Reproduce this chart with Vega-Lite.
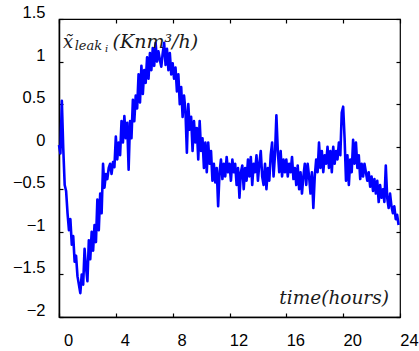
{
  "$schema": "https://vega.github.io/schema/vega-lite/v6.json",
  "autosize": "none",
  "width": 341,
  "height": 298,
  "padding": {"left": 59, "top": 19, "right": 19, "bottom": 34},
  "config": {
    "view": {"stroke": "#000000", "strokeWidth": 1.2},
    "axis": {
      "grid": false,
      "domainColor": "#000000",
      "domainWidth": 1.5,
      "tickColor": "#000000",
      "tickWidth": 1.2,
      "labelFont": "Liberation Sans",
      "labelFontSize": 16.5,
      "labelColor": "#000000",
      "title": null
    }
  },
  "data": {
    "values": [
      {"t": 0.0, "v": 0.02}, {"t": 0.1, "v": -0.08}, {"t": 0.2, "v": 0.54}, {"t": 0.3, "v": -0.02}, {"t": 0.4, "v": -0.45},
      {"t": 0.5, "v": -0.52}, {"t": 0.6, "v": -0.78}, {"t": 0.7, "v": -0.98}, {"t": 0.8, "v": -0.85}, {"t": 0.9, "v": -1.15},
      {"t": 1.0, "v": -1.05}, {"t": 1.1, "v": -1.35}, {"t": 1.2, "v": -1.28}, {"t": 1.3, "v": -1.52}, {"t": 1.4, "v": -1.62},
      {"t": 1.5, "v": -1.72}, {"t": 1.6, "v": -1.5}, {"t": 1.7, "v": -1.62}, {"t": 1.8, "v": -1.2}, {"t": 1.9, "v": -1.42},
      {"t": 2.0, "v": -1.58}, {"t": 2.1, "v": -1.1}, {"t": 2.2, "v": -1.32}, {"t": 2.3, "v": -1.0}, {"t": 2.4, "v": -1.22},
      {"t": 2.5, "v": -0.92}, {"t": 2.6, "v": -1.12}, {"t": 2.7, "v": -0.62}, {"t": 2.8, "v": -0.98}, {"t": 2.9, "v": -0.55},
      {"t": 3.0, "v": -0.78}, {"t": 3.1, "v": -0.2}, {"t": 3.2, "v": -0.48}, {"t": 3.3, "v": -0.32}, {"t": 3.4, "v": -0.38},
      {"t": 3.5, "v": -0.25}, {"t": 3.6, "v": -0.2}, {"t": 3.7, "v": -0.32}, {"t": 3.8, "v": -0.18}, {"t": 3.9, "v": -0.24},
      {"t": 4.0, "v": 0.12}, {"t": 4.1, "v": -0.15}, {"t": 4.2, "v": 0.05}, {"t": 4.3, "v": -0.1}, {"t": 4.4, "v": 0.3},
      {"t": 4.5, "v": 0.05}, {"t": 4.6, "v": 0.36}, {"t": 4.7, "v": 0.1}, {"t": 4.8, "v": 0.28}, {"t": 4.9, "v": -0.27},
      {"t": 5.0, "v": 0.3}, {"t": 5.1, "v": 0.1}, {"t": 5.2, "v": 0.55}, {"t": 5.3, "v": 0.3}, {"t": 5.4, "v": 0.6},
      {"t": 5.5, "v": 0.45}, {"t": 5.6, "v": 0.85}, {"t": 5.7, "v": 0.52}, {"t": 5.8, "v": 0.95}, {"t": 5.9, "v": 0.62},
      {"t": 6.0, "v": 0.9}, {"t": 6.1, "v": 0.75}, {"t": 6.2, "v": 1.05}, {"t": 6.3, "v": 0.8}, {"t": 6.4, "v": 1.1},
      {"t": 6.5, "v": 0.9}, {"t": 6.6, "v": 1.16}, {"t": 6.7, "v": 0.95}, {"t": 6.8, "v": 1.22}, {"t": 6.9, "v": 1.0},
      {"t": 7.0, "v": 1.12}, {"t": 7.1, "v": 1.02}, {"t": 7.2, "v": 0.94}, {"t": 7.3, "v": 1.1}, {"t": 7.4, "v": 1.22},
      {"t": 7.5, "v": 0.96}, {"t": 7.6, "v": 1.15}, {"t": 7.7, "v": 0.9}, {"t": 7.8, "v": 1.1}, {"t": 7.9, "v": 0.85},
      {"t": 8.0, "v": 0.98}, {"t": 8.1, "v": 0.8}, {"t": 8.2, "v": 0.93}, {"t": 8.3, "v": 0.65}, {"t": 8.4, "v": 0.85},
      {"t": 8.5, "v": 0.5}, {"t": 8.6, "v": 0.7}, {"t": 8.7, "v": 0.35}, {"t": 8.8, "v": 0.6}, {"t": 8.9, "v": 0.42},
      {"t": 9.0, "v": -0.07}, {"t": 9.1, "v": 0.5}, {"t": 9.2, "v": 0.2}, {"t": 9.3, "v": 0.35}, {"t": 9.4, "v": -0.05},
      {"t": 9.5, "v": 0.3}, {"t": 9.6, "v": 0.05}, {"t": 9.7, "v": 0.22}, {"t": 9.8, "v": -0.15}, {"t": 9.9, "v": 0.3},
      {"t": 10.0, "v": -0.05}, {"t": 10.1, "v": 0.1}, {"t": 10.2, "v": -0.25}, {"t": 10.3, "v": 0.05}, {"t": 10.4, "v": -0.3},
      {"t": 10.5, "v": 0.05}, {"t": 10.6, "v": -0.2}, {"t": 10.7, "v": -0.05}, {"t": 10.8, "v": -0.4}, {"t": 10.9, "v": -0.2},
      {"t": 11.0, "v": -0.42}, {"t": 11.1, "v": -0.25}, {"t": 11.2, "v": -0.7}, {"t": 11.3, "v": -0.3}, {"t": 11.4, "v": -0.15},
      {"t": 11.5, "v": -0.38}, {"t": 11.6, "v": -0.2}, {"t": 11.7, "v": -0.35}, {"t": 11.8, "v": -0.12}, {"t": 11.9, "v": -0.3},
      {"t": 12.0, "v": -0.2}, {"t": 12.1, "v": -0.4}, {"t": 12.2, "v": -0.15}, {"t": 12.3, "v": -0.3}, {"t": 12.4, "v": -0.2},
      {"t": 12.5, "v": -0.45}, {"t": 12.6, "v": -0.25}, {"t": 12.7, "v": -0.6}, {"t": 12.8, "v": -0.3}, {"t": 12.9, "v": -0.22},
      {"t": 13.0, "v": -0.5}, {"t": 13.1, "v": -0.25}, {"t": 13.2, "v": -0.4}, {"t": 13.3, "v": -0.15}, {"t": 13.4, "v": -0.35},
      {"t": 13.5, "v": -0.12}, {"t": 13.6, "v": -0.45}, {"t": 13.7, "v": -0.2}, {"t": 13.8, "v": -0.3}, {"t": 13.9, "v": -0.1},
      {"t": 14.0, "v": -0.4}, {"t": 14.1, "v": -0.2}, {"t": 14.2, "v": -0.05}, {"t": 14.3, "v": -0.35}, {"t": 14.4, "v": -0.45},
      {"t": 14.5, "v": -0.2}, {"t": 14.6, "v": -0.5}, {"t": 14.7, "v": -0.25}, {"t": 14.8, "v": -0.4}, {"t": 14.9, "v": -0.1},
      {"t": 15.0, "v": 0.05}, {"t": 15.1, "v": -0.35}, {"t": 15.2, "v": -0.1}, {"t": 15.3, "v": 0.37}, {"t": 15.4, "v": -0.05},
      {"t": 15.5, "v": -0.3}, {"t": 15.6, "v": -0.05}, {"t": 15.7, "v": -0.35}, {"t": 15.8, "v": -0.15}, {"t": 15.9, "v": -0.3},
      {"t": 16.0, "v": -0.15}, {"t": 16.1, "v": -0.35}, {"t": 16.2, "v": -0.2}, {"t": 16.3, "v": -0.3}, {"t": 16.4, "v": -0.12},
      {"t": 16.5, "v": -0.38}, {"t": 16.6, "v": -0.25}, {"t": 16.7, "v": -0.45}, {"t": 16.8, "v": -0.22}, {"t": 16.9, "v": -0.5},
      {"t": 17.0, "v": -0.3}, {"t": 17.1, "v": -0.55}, {"t": 17.2, "v": -0.35}, {"t": 17.3, "v": -0.2}, {"t": 17.4, "v": -0.45},
      {"t": 17.5, "v": -0.2}, {"t": 17.6, "v": -0.35}, {"t": 17.7, "v": -0.55}, {"t": 17.8, "v": -0.3}, {"t": 17.9, "v": -0.72},
      {"t": 18.0, "v": -0.35}, {"t": 18.1, "v": -0.15}, {"t": 18.2, "v": -0.3}, {"t": 18.3, "v": 0.05}, {"t": 18.4, "v": -0.25},
      {"t": 18.5, "v": -0.05}, {"t": 18.6, "v": -0.3}, {"t": 18.7, "v": -0.1}, {"t": 18.8, "v": -0.2}, {"t": 18.9, "v": 0.0},
      {"t": 19.0, "v": -0.25}, {"t": 19.1, "v": -0.05}, {"t": 19.2, "v": -0.3}, {"t": 19.3, "v": 0.0}, {"t": 19.4, "v": -0.2},
      {"t": 19.5, "v": -0.05}, {"t": 19.6, "v": -0.15}, {"t": 19.7, "v": 0.05}, {"t": 19.8, "v": -0.1}, {"t": 19.9, "v": 0.4},
      {"t": 20.0, "v": 0.47}, {"t": 20.1, "v": 0.1}, {"t": 20.2, "v": -0.4}, {"t": 20.3, "v": -0.1}, {"t": 20.4, "v": -0.45},
      {"t": 20.5, "v": -0.15}, {"t": 20.6, "v": -0.3}, {"t": 20.7, "v": 0.08}, {"t": 20.8, "v": -0.2}, {"t": 20.9, "v": 0.05},
      {"t": 21.0, "v": -0.25}, {"t": 21.1, "v": -0.1}, {"t": 21.2, "v": -0.38}, {"t": 21.3, "v": -0.2}, {"t": 21.4, "v": -0.35},
      {"t": 21.5, "v": -0.2}, {"t": 21.6, "v": -0.3}, {"t": 21.7, "v": -0.4}, {"t": 21.8, "v": -0.3}, {"t": 21.9, "v": -0.47},
      {"t": 22.0, "v": -0.35}, {"t": 22.1, "v": -0.52}, {"t": 22.2, "v": -0.38}, {"t": 22.3, "v": -0.55}, {"t": 22.4, "v": -0.4},
      {"t": 22.5, "v": -0.65}, {"t": 22.6, "v": -0.45}, {"t": 22.7, "v": -0.6}, {"t": 22.8, "v": -0.5}, {"t": 22.9, "v": -0.65},
      {"t": 23.0, "v": -0.22}, {"t": 23.1, "v": -0.6}, {"t": 23.2, "v": -0.72}, {"t": 23.3, "v": -0.55}, {"t": 23.4, "v": -0.7},
      {"t": 23.5, "v": -0.78}, {"t": 23.6, "v": -0.7}, {"t": 23.7, "v": -0.85}, {"t": 23.8, "v": -0.8}, {"t": 23.9, "v": -0.92}
    ]
  },
  "layer": [
    {
      "mark": {"type": "line", "color": "#0000ff", "strokeWidth": 2.6, "strokeJoin": "round"},
      "encoding": {
        "x": {
          "field": "t", "type": "quantitative",
          "scale": {"domain": [0, 24], "nice": false, "zero": false},
          "axis": {"orient": "bottom", "values": [0, 4, 8, 12, 16, 20, 24], "ticks": false, "tickSize": 0, "labelPadding": 15, "labelOffset": 9, "labelFlush": false}
        },
        "y": {
          "field": "v", "type": "quantitative",
          "scale": {"domain": [-2, 1.5], "nice": false, "zero": false},
          "axis": {"orient": "left", "values": [-2, -1.5, -1, -0.5, 0, 0.5, 1, 1.5], "format": "~g", "ticks": false, "tickSize": 0, "labelPadding": 14, "labelOffset": -6.5, "labelFlush": false}
        }
      }
    },
    {
      "mark": {"type": "line", "opacity": 0},
      "encoding": {
        "x": {"field": "t", "type": "quantitative", "axis": {"orient": "top", "values": [0, 4, 8, 12, 16, 20, 24], "labels": false, "domain": false, "offset": -4, "tickSize": 4}},
        "y": {"field": "v", "type": "quantitative", "axis": {"orient": "right", "values": [-2, -1.5, -1, -0.5, 0, 0.5, 1, 1.5], "labels": false, "domain": false, "offset": -4, "tickSize": 4}}
      }
    },
    {
      "mark": {"type": "line", "opacity": 0},
      "encoding": {
        "x": {"field": "t", "type": "quantitative", "axis": {"orient": "bottom", "values": [0, 4, 8, 12, 16, 20, 24], "labels": false, "domain": false, "offset": -4, "tickSize": 4}},
        "y": {"field": "v", "type": "quantitative", "axis": {"orient": "left", "values": [-2, -1.5, -1, -0.5, 0, 0.5, 1, 1.5], "labels": false, "domain": false, "offset": -4, "tickSize": 4}}
      }
    },
    {
      "data": {"values": [{}]},
      "mark": {"type": "text", "text": "x̃", "font": "DejaVu Serif", "fontStyle": "italic", "fontSize": 18, "align": "left", "baseline": "alphabetic", "color": "#1a1a1a"},
      "encoding": {"x": {"datum": 0.28, "axis": null}, "y": {"datum": 1.159, "axis": null}}
    },
    {
      "data": {"values": [{}]},
      "mark": {"type": "text", "text": "leak", "font": "DejaVu Serif", "fontStyle": "italic", "fontSize": 13, "align": "left", "baseline": "alphabetic", "color": "#1a1a1a"},
      "encoding": {"x": {"datum": 1.1, "axis": null}, "y": {"datum": 1.136, "axis": null}}
    },
    {
      "data": {"values": [{}]},
      "mark": {"type": "text", "text": "i", "font": "DejaVu Serif", "fontStyle": "italic", "fontSize": 10, "align": "left", "baseline": "alphabetic", "color": "#1a1a1a"},
      "encoding": {"x": {"datum": 3.24, "axis": null}, "y": {"datum": 1.107, "axis": null}}
    },
    {
      "data": {"values": [{}]},
      "mark": {"type": "text", "text": "(Knm³/h)", "font": "DejaVu Serif", "fontStyle": "italic", "fontSize": 19, "align": "left", "baseline": "alphabetic", "color": "#1a1a1a"},
      "encoding": {"x": {"datum": 3.77, "axis": null}, "y": {"datum": 1.159, "axis": null}}
    },
    {
      "data": {"values": [{}]},
      "mark": {"type": "text", "text": "time(hours)", "font": "DejaVu Serif", "fontStyle": "italic", "fontSize": 18.5, "align": "right", "baseline": "alphabetic", "color": "#1a1a1a"},
      "encoding": {"x": {"datum": 23.22, "axis": null}, "y": {"datum": -1.847, "axis": null}}
    }
  ],
  "resolve": {"axis": {"x": "independent", "y": "independent"}}
}
